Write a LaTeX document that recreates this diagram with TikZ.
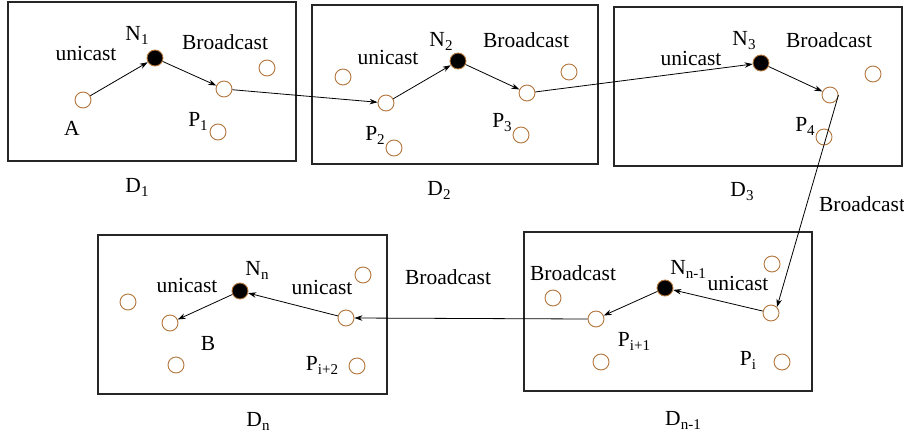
\documentclass[tikz,border=0pt]{standalone}
\usepackage{fontspec}
\setmainfont{Liberation Serif}
\usetikzlibrary{arrows.meta}
\definecolor{brn}{RGB}{178,118,60}
\newcommand\sbs[1]{\raisebox{-0.4ex}{\fontsize{15}{15}\selectfont #1}}
\begin{document}
\begin{tikzpicture}[x=1pt,y=-1pt,
  box/.style={draw=black!85,line width=1.1pt},
  pnode/.style={circle,draw=brn,line width=0.9pt,minimum size=16pt,inner sep=0pt,fill=white},
  nnode/.style={circle,draw=brn,line width=0.9pt,minimum size=16pt,inner sep=0pt,fill=black},
  lbl/.style={font=\fontsize{21.5}{21.5}\selectfont,inner sep=0pt,anchor=center},
  arr/.style={-{Stealth[length=8pt,width=5.5pt]},line width=0.8pt,black}]
\useasboundingbox (0,0) rectangle (904,434);
% boxes
\draw[box] (8,2) rectangle (296,161);
\draw[box] (312,5) rectangle (598,164);
\draw[box] (614,7) rectangle (902,166);
\draw[box] (98,235) rectangle (387,394);
\draw[box] (524,232) rectangle (812,391);
% D1
\node[pnode] (a) at (83,100) {};
\node[nnode] (n1) at (155,58) {};
\node[pnode] (o1) at (224,89) {};
\node[pnode] (c1) at (267,68) {};
\node[pnode] (p1) at (218,132) {};
\node[lbl] (l1) at (86,53) {unicast};
\node[lbl] (ln1) at (137,35) {N\sbs{1}};
\node[lbl] (lb1) at (225,42) {Broadcast};
\node[lbl] (la) at (72,128) {A};
\node[lbl] (lp1) at (198,121) {P\sbs{1}};
\node[lbl] (ld1) at (137,187) {D\sbs{1}};
% D2
\node[pnode] (c2) at (343,77) {};
\node[pnode] (a2) at (386,103) {};
\node[nnode] (n2) at (458,61) {};
\node[pnode] (o2) at (527,93) {};
\node[pnode] (c2b) at (569,72) {};
\node[pnode] (p2) at (394,148) {};
\node[pnode] (p3) at (521,135) {};
\node[lbl] (l2) at (388,57) {unicast};
\node[lbl] (ln2) at (441,41) {N\sbs{2}};
\node[lbl] (lb2) at (526,40) {Broadcast};
\node[lbl] (lp2) at (375,135) {P\sbs{2}};
\node[lbl] (lp3) at (502,123) {P\sbs{3}};
\node[lbl] (ld2) at (439,190) {D\sbs{2}};
% D3
\node[nnode] (n3) at (761,63) {};
\node[pnode] (o3) at (830,95) {};
\node[pnode] (c3) at (873,74) {};
\node[pnode] (p4) at (824,137) {};
\node[lbl] (l3) at (691,58) {unicast};
\node[lbl] (ln3) at (744,41) {N\sbs{3}};
\node[lbl] (lb3) at (829,40) {Broadcast};
\node[lbl] (lp4) at (805,126) {P\sbs{4}};
\node[lbl] (ld3) at (742,192) {D\sbs{3}};
\node[lbl] (lbo1) at (862,204) {Broadcast};
% Dn-1
\node[pnode] (c5a) at (553,298) {};
\node[pnode] (a5) at (771,313) {};
\node[nnode] (n5) at (665,288) {};
\node[pnode] (o5) at (596,319) {};
\node[pnode] (c5b) at (772,264) {};
\node[pnode] (c5c) at (601,362) {};
\node[pnode] (pi) at (782,362) {};
\node[lbl] (lb5) at (573,273) {Broadcast};
\node[lbl] (ln5) at (688,269) {N\sbs{n-1}};
\node[lbl] (l5) at (738,283) {unicast};
\node[lbl] (lpi1) at (634,341) {P\sbs{i+1}};
\node[lbl] (lpi) at (748,360) {P\sbs{i}};
\node[lbl] (ld5) at (683,420) {D\sbs{n-1}};
\node[lbl] (lbo2) at (448,277) {Broadcast};
% Dn
\node[pnode] (c4a) at (128,302) {};
\node[pnode] (b) at (170,323) {};
\node[nnode] (n4) at (240,291) {};
\node[pnode] (a4) at (346,318) {};
\node[pnode] (c4b) at (363,275) {};
\node[pnode] (c4c) at (176,365) {};
\node[pnode] (pi2) at (357,366) {};
\node[lbl] (l4a) at (187,285) {unicast};
\node[lbl] (ln4) at (257,270) {N\sbs{n}};
\node[lbl] (l4b) at (322,287) {unicast};
\node[lbl] (lb) at (208,343) {B};
\node[lbl] (lpi2) at (322,365) {P\sbs{i+2}};
\node[lbl] (ld4) at (258,421) {D\sbs{n}};
% arrows
\draw[arr] (a) -- (n1);
\draw[arr] (n1) -- (o1);
\draw[arr] (o1) -- (a2);
\draw[arr] (a2) -- (n2);
\draw[arr] (n2) -- (o2);
\draw[arr] (o2) -- (n3);
\draw[arr] (n3) -- (o3);
\draw[arr] (o3.east) -- (a5.north east);
\draw[arr] (a5) -- (n5);
\draw[arr] (n5) -- (o5);
\draw[arr] (o5.west) -- (a4.east);
\draw[arr] (a4) -- (n4);
\draw[arr] (n4) -- (b);
\end{tikzpicture}
\end{document}
